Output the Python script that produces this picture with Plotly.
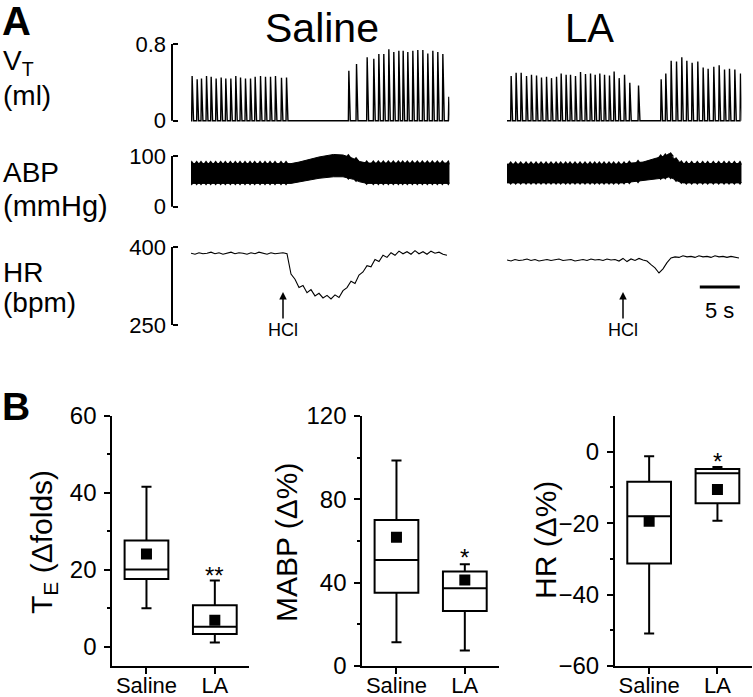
import numpy as np
import plotly.graph_objects as go

W, H = 753, 697
FONT = "Liberation Sans, Arial, sans-serif"

# ---------------- Panel A data ----------------
# Tidal volume: breath times (s) and peak VT (ml)
sal_breath_t = [0.08, 0.71, 1.25, 1.88, 2.46, 3.08, 3.71, 4.29, 4.92, 5.54, 6.13, 6.75, 7.38, 7.96,
                8.63, 9.25, 9.88, 10.5, 11.25, 11.88,
                19.67, 20.63, 21.96, 22.79, 23.42, 24.04, 24.67, 25.29, 25.92, 26.46, 27.04, 27.67,
                28.29, 28.92, 29.54, 30.17, 30.79, 31.42, 32.17]
sal_breath_v = [0.465, 0.431, 0.441, 0.465, 0.458, 0.441, 0.451, 0.441, 0.441, 0.465, 0.451, 0.441,
                0.441, 0.458, 0.465, 0.458, 0.458, 0.465, 0.448, 0.451,
                0.521, 0.591, 0.661, 0.646, 0.695, 0.695, 0.744, 0.716, 0.730, 0.730, 0.716, 0.730,
                0.737, 0.737, 0.702, 0.730, 0.716, 0.695, 0.249]
la_breath_t = [0.46, 1.08, 1.71, 2.38, 3.0, 3.63, 4.25, 4.88, 5.5, 6.13, 6.71, 7.33, 7.88, 8.5, 9.13,
               9.75, 10.38, 10.96, 11.54, 12.13, 12.75, 13.33, 13.96, 14.63, 15.29, 16.38,
               19.21, 19.79, 20.46, 21.13, 21.79, 22.42, 23.08, 23.79, 24.46, 25.08, 25.79, 26.46,
               27.13, 27.75, 28.42, 29.13]
la_breath_v = [0.465, 0.500, 0.500, 0.465, 0.479, 0.472, 0.451, 0.458, 0.444, 0.458, 0.493, 0.479,
               0.479, 0.465, 0.507, 0.486, 0.493, 0.479, 0.493, 0.479, 0.472, 0.514, 0.444, 0.479,
               0.395, 0.368,
               0.431, 0.493, 0.625, 0.618, 0.661, 0.625, 0.605, 0.618, 0.556, 0.542, 0.563, 0.577,
               0.535, 0.542, 0.535, 0.493]
sal_duration = 32.3
la_duration = 29.3

# ABP envelope (mmHg): time (s), upper and lower edge of the pulsatile band
sal_abp_t = [0, 12.5, 13.5, 14.5, 16.0, 17.8, 19.0, 20.3, 21.1, 22.0, 32.3]
sal_abp_top = [85, 85, 88, 92, 98, 103, 102, 95, 89, 86, 86]
sal_abp_bot = [46, 46, 49, 52, 56, 59, 59, 54, 49, 46, 46]
la_abp_t = [0, 14.5, 15.5, 17.0, 18.7, 19.8, 20.3, 20.8, 21.4, 22.0, 29.3]
la_abp_top = [84, 84, 86, 88, 96, 100, 105, 96, 89, 85, 85]
la_abp_bot = [47, 47, 48, 51, 55, 57, 59, 55, 50, 47, 47]

# Heart rate (bpm) sampled every 0.5 s
sal_hr = [388, 386, 389, 387, 388, 390, 387, 389, 386, 388, 390, 387, 389, 388, 386, 389, 387, 390,
          388, 386, 389, 387, 388, 389,
          387, 348, 338, 322, 326, 312, 318, 306, 311, 302, 307, 300, 308, 303, 316, 322, 334, 330,
          346, 352, 364, 362, 376, 372, 384, 380, 389, 384, 392, 387, 391, 386, 393, 387, 391, 386,
          392, 388, 390, 386, 384]
la_hr = [375, 373, 376, 374, 375, 377, 374, 376, 373, 375, 376, 374, 375, 377, 374, 375, 376, 373,
         375, 376, 374, 377, 375, 376, 374, 377, 375, 376, 373,
         378, 372, 377, 374, 378, 375, 373, 366, 360, 350, 358, 370, 379, 381, 380, 383, 381, 382,
         380, 383, 381, 382, 380, 383, 381, 382, 380, 382, 381, 379]
hr_dt = 0.5

hcl_t_saline = 11.5
hcl_t_la = 14.5
scale_bar_s = 5

# ---------------- Panel B data ----------------
groups = ["Saline", "LA"]
te_q1 = [17.6, 3.3]; te_med = [20.1, 5.2]; te_q3 = [27.6, 10.8]
te_lo = [10.0, 1.1]; te_hi = [41.6, 17.2]; te_mean = [24.1, 6.9]

mabp_q1 = [35.2, 26.4]; mabp_med = [50.9, 37.3]; mabp_q3 = [70.1, 45.4]
mabp_lo = [11.4, 7.4]; mabp_hi = [98.6, 48.8]; mabp_mean = [61.8, 41.3]

hrp_q1 = [-31.3, -14.4]; hrp_med = [-18.1, -6.0]; hrp_q3 = [-8.4, -4.85]
hrp_lo = [-50.9, -19.3]; hrp_hi = [-1.3, -4.3]; hrp_mean = [-19.5, -10.6]

# ---------------- helpers ----------------
def fx(x):
    return x / W

def fy(y):
    return 1 - y / H

def ydom(v_a, py_a, v_b, py_b, lo, hi):
    ppu = (py_a - py_b) / (v_b - v_a)
    bottom = py_a + (v_a - lo) * ppu
    top = py_b - (hi - v_b) * ppu
    return [fy(bottom), fy(top)]

def vt_wave(bt, bv, t_end):
    xs, ys = [0.0], [0.0]
    for t, v in zip(bt, bv):
        xs += [t, t + 0.06, t + 0.24]
        ys += [0, v, 0]
    xs.append(max(t_end, xs[-1]))
    ys.append(0)
    return xs, ys

fig = go.Figure()
black = "black"

# ---- VT traces ----
for bt, bv, dur, xa in [(sal_breath_t, sal_breath_v, sal_duration, "x"),
                        (la_breath_t, la_breath_v, la_duration, "x2")]:
    xs, ys = vt_wave(bt, bv, dur)
    fig.add_trace(go.Scatter(x=xs, y=ys, mode="lines", line=dict(color=black, width=1.4),
                             xaxis=xa, yaxis="y", showlegend=False, hoverinfo="skip"))

# ---- ABP band ----
for kt, top, bot, bt, xa in [(sal_abp_t, sal_abp_top, sal_abp_bot, sal_breath_t, "x"),
                             (la_abp_t, la_abp_top, la_abp_bot, la_breath_t, "x2")]:
    fig.add_trace(go.Scatter(x=kt + kt[::-1], y=top + bot[::-1], mode="lines", fill="toself",
                             fillcolor=black, line=dict(color=black, width=1),
                             xaxis=xa, yaxis="y2", showlegend=False, hoverinfo="skip"))
    tt = [t for t in bt if t <= kt[-1]]
    fig.add_trace(go.Scatter(x=tt, y=np.interp(tt, kt, top), mode="markers",
                             marker=dict(symbol="triangle-up", size=6, color=black),
                             xaxis=xa, yaxis="y2", showlegend=False, hoverinfo="skip"))
    fig.add_trace(go.Scatter(x=tt, y=np.interp(tt, kt, bot), mode="markers",
                             marker=dict(symbol="triangle-down", size=4, color=black),
                             xaxis=xa, yaxis="y2", showlegend=False, hoverinfo="skip"))

# ---- HR trace ----
for hr, xa in [(sal_hr, "x"), (la_hr, "x2")]:
    fig.add_trace(go.Scatter(x=np.arange(len(hr)) * hr_dt, y=hr, mode="lines",
                             line=dict(color=black, width=1.1),
                             xaxis=xa, yaxis="y3", showlegend=False, hoverinfo="skip"))

# ---- Panel B boxes ----
panelB = [
    ("x3", "y4", te_q1, te_med, te_q3, te_lo, te_hi, te_mean),
    ("x4", "y5", mabp_q1, mabp_med, mabp_q3, mabp_lo, mabp_hi, mabp_mean),
    ("x5", "y6", hrp_q1, hrp_med, hrp_q3, hrp_lo, hrp_hi, hrp_mean),
]
for xa, ya, q1, med, q3, lo, hi, mean in panelB:
    fig.add_trace(go.Box(x=groups, q1=q1, median=med, q3=q3, lowerfence=lo, upperfence=hi,
                         boxpoints=False, width=0.64, whiskerwidth=0.23, fillcolor="white",
                         line=dict(color=black, width=2), xaxis=xa, yaxis=ya,
                         showlegend=False, hoverinfo="skip"))
    fig.add_trace(go.Scatter(x=groups, y=mean, mode="markers",
                             marker=dict(symbol="square", size=11, color=black),
                             xaxis=xa, yaxis=ya, showlegend=False, hoverinfo="skip"))

# ---------------- Layout ----------------
hidden = dict(visible=False, showgrid=False, zeroline=False, automargin=False)
ax_pos = fx(172)
ytick_font = dict(family=FONT, size=22, color=black)

def a_yaxis(dom, rng, vals, text):
    return dict(domain=dom, range=rng, anchor="free", position=ax_pos, showline=False,
                showgrid=False, zeroline=False, ticks="inside", ticklen=5, tickwidth=2,
                tickcolor=black, tickvals=vals, ticktext=text, tickfont=ytick_font,
                ticklabelstandoff=6, automargin=False)

def b_xaxis(dom, anchor):
    return dict(domain=dom, anchor=anchor, type="category", categoryorder="array",
                categoryarray=groups, range=[-0.5, 1.5], showline=True, linewidth=2,
                linecolor=black, ticks="outside", ticklen=6, tickwidth=2, tickcolor=black,
                tickfont=dict(family=FONT, size=22, color=black), showgrid=False, zeroline=False,
                ticklabelstandoff=-7, automargin=False)

def b_yaxis(dom, anchor, rng, major, minor):
    return dict(domain=dom, anchor=anchor, range=rng, showline=True, linewidth=2, linecolor=black,
                ticks="outside", ticklen=6, tickwidth=2, tickcolor=black, tickvals=major,
                minor=dict(tickvals=minor, ticks="outside", ticklen=3, tickwidth=2, tickcolor=black),
                tickfont=dict(family=FONT, size=24, color=black), showgrid=False, zeroline=False,
                ticklabelstandoff=3, automargin=False)

b_ydom = [fy(666), fy(416)]

fig.update_layout(
    width=W, height=H, margin=dict(l=0, r=0, t=0, b=0, autoexpand=False),
    paper_bgcolor="white", plot_bgcolor="rgba(0,0,0,0)",
    font=dict(family=FONT, color=black),
    xaxis=dict(domain=[fx(191), fx(191 + 8 * sal_duration)], range=[0, sal_duration], **hidden),
    xaxis2=dict(domain=[fx(507), fx(507 + 8 * la_duration)], range=[0, la_duration], **hidden),
    yaxis=a_yaxis(ydom(0, 120.7, 0.8, 44, -0.05, 0.85), [-0.05, 0.85], [0, 0.8], ["0", "0.8"]),
    yaxis2=a_yaxis(ydom(0, 206.7, 100, 156, -6, 115), [-6, 115], [0, 100], ["0", "100"]),
    yaxis3=a_yaxis(ydom(250, 325, 400, 247, 244, 406), [244, 406], [250, 400], ["250", "400"]),
    xaxis3=b_xaxis([fx(112.3), fx(249)], "y4"),
    yaxis4=b_yaxis(b_ydom, "x3", [-5, 60], [0, 20, 40, 60], [10, 30, 50]),
    xaxis4=b_xaxis([fx(362.3), fx(499)], "y5"),
    yaxis5=b_yaxis(b_ydom, "x4", [0, 120], [0, 40, 80, 120], [20, 60, 100]),
    xaxis5=b_xaxis([fx(615), fx(751.6)], "y6"),
    yaxis6=b_yaxis(b_ydom, "x5", [-60, 10], [-60, -40, -20, 0], [-50, -30, -10]),
)

# bracket lines for panel A axes
shapes = []
for ya, lo, hi in [("y", 0, 0.8), ("y2", 0, 100), ("y3", 250, 400)]:
    shapes.append(dict(type="line", xref="paper", yref=ya, x0=ax_pos, x1=ax_pos, y0=lo, y1=hi,
                       line=dict(color=black, width=2)))
# 5 s scale bar on LA time axis
shapes.append(dict(type="line", xref="x2", yref="paper", x0=la_duration - 0.2 - scale_bar_s,
                   x1=la_duration - 0.2, y0=fy(287), y1=fy(287), line=dict(color=black, width=3)))
fig.update_layout(shapes=shapes)

ann = []
def txt(x, y, s, size, bold=False, xanchor="center", angle=0):
    ann.append(dict(x=fx(x), y=fy(y), xref="paper", yref="paper", text=(f"<b>{s}</b>" if bold else s),
                    showarrow=False, xanchor=xanchor, yanchor="middle", textangle=angle,
                    font=dict(family=FONT, size=size, color=black)))

txt(0, 21, "A", 40, bold=True, xanchor="left")
txt(0, 406, "B", 39, bold=True, xanchor="left")
txt(322, 28, "Saline", 41)
txt(589, 28, "LA", 40)
txt(1, 63, "V<sub>T</sub>", 28, xanchor="left")
txt(1, 96, "(ml)", 28, xanchor="left")
txt(1, 173, "ABP", 28, xanchor="left")
txt(1, 206, "(mmHg)", 29, xanchor="left")
txt(1, 272, "HR", 28, xanchor="left")
txt(1, 302, "(bpm)", 28, xanchor="left")
txt(43, 542, "T<sub>E</sub> (Δfolds)", 30, angle=-90)
txt(286, 542, "MABP (Δ%)", 30, angle=-90)
txt(545, 540, "HR (Δ%)", 30, angle=-90)

# HCl arrows
for t, xa in [(hcl_t_saline, "x"), (hcl_t_la, "x2")]:
    ann.append(dict(x=t, y=fy(292), xref=xa, yref="paper", text="HCl", showarrow=True,
                    arrowhead=2, arrowsize=1, arrowwidth=1.5, arrowcolor=black, ax=0, ay=38,
                    font=dict(family=FONT, size=18, color=black)))
# scale bar label
ann.append(dict(x=la_duration - 0.2 - scale_bar_s / 2, y=fy(310), xref="x2", yref="paper",
                text=f"{scale_bar_s} s", showarrow=False, yanchor="middle",
                font=dict(family=FONT, size=22, color=black)))
# significance marks
for xa, ya, g, yv, s in [("x3", "y4", "LA", 18.6, "**"), ("x4", "y5", "LA", 52.3, "*"),
                         ("x5", "y6", "LA", -2.6, "*")]:
    ann.append(dict(x=g, y=yv, xref=xa, yref=ya, text=s, showarrow=False, yanchor="middle",
                    font=dict(family=FONT, size=24, color=black)))
fig.update_layout(annotations=ann)

fig.write_html("out.html", config={"displayModeBar": False, "staticPlot": True},
               post_script="document.body.style.margin='0';document.body.style.overflow='hidden';")
